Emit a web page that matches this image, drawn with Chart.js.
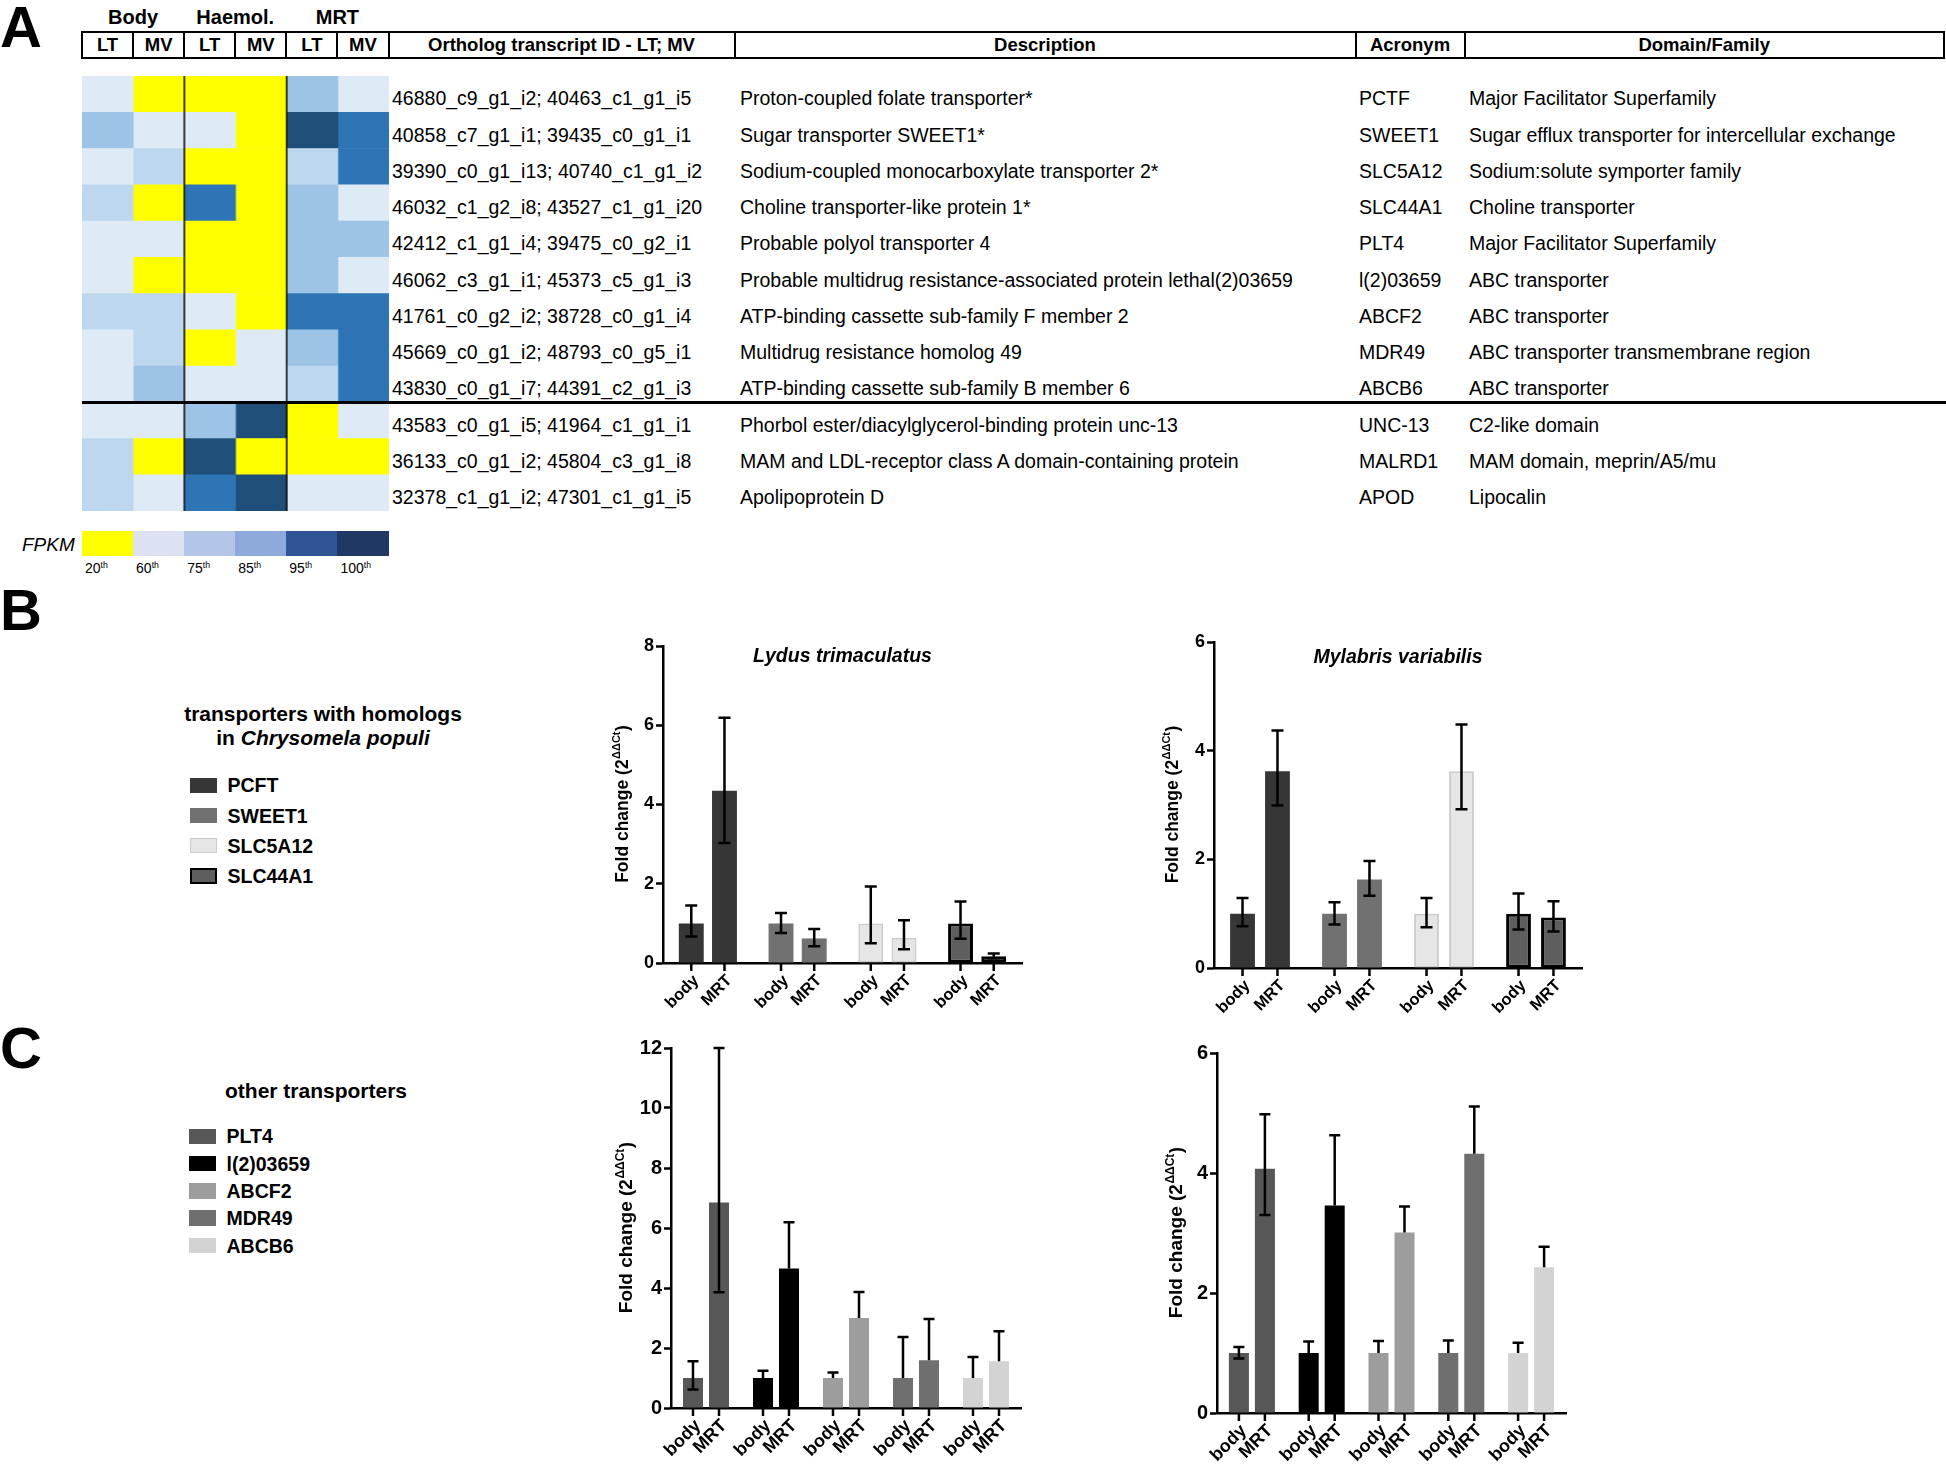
<!DOCTYPE html>
<html>
<head>
<meta charset="utf-8">
<title>Transporter expression in MRT</title>
<script src="https://cdn.jsdelivr.net/npm/chart.js@4.4.1/dist/chart.umd.min.js"></script>
<style>
  html, body { margin: 0; padding: 0; background: #fff; }
  body { position: relative; width: 1946px; height: 1464px; overflow: hidden;
         font-family: 'Liberation Sans', Arial, sans-serif; color: #000; }
  .txt { position: absolute; white-space: nowrap; line-height: 1; }
  .txt sup { font-size: 0.62em; vertical-align: 0; position: relative; top: -0.55em; line-height: 0; }
  .rule { position: absolute; background: #000; z-index: 2; }
  .box { position: absolute; box-sizing: border-box; }
  canvas { position: absolute; }
</style>
</head>
<body>
<canvas id="heatmap"></canvas>
<canvas id="lydusB"></canvas>
<canvas id="mylabrisB"></canvas>
<canvas id="lydusC"></canvas>
<canvas id="mylabrisC"></canvas>
<script>
// ---------- Panel A: RNA-seq table ----------
const SAMPLE_GROUPS = ['Body', 'Haemol.', 'MRT'];
const SAMPLE_SPECIES = ['LT', 'MV', 'LT', 'MV', 'LT', 'MV'];
const TABLE_HEADERS = ['Ortholog transcript ID - LT; MV', 'Description', 'Acronym', 'Domain/Family'];
const TRANSCRIPT_IDS = [
    '46880_c9_g1_i2; 40463_c1_g1_i5',
    '40858_c7_g1_i1; 39435_c0_g1_i1',
    '39390_c0_g1_i13; 40740_c1_g1_i2',
    '46032_c1_g2_i8; 43527_c1_g1_i20',
    '42412_c1_g1_i4; 39475_c0_g2_i1',
    '46062_c3_g1_i1; 45373_c5_g1_i3',
    '41761_c0_g2_i2; 38728_c0_g1_i4',
    '45669_c0_g1_i2; 48793_c0_g5_i1',
    '43830_c0_g1_i7; 44391_c2_g1_i3',
    '43583_c0_g1_i5; 41964_c1_g1_i1',
    '36133_c0_g1_i2; 45804_c3_g1_i8',
    '32378_c1_g1_i2; 47301_c1_g1_i5'
];
const DESCRIPTIONS = [
    'Proton-coupled folate transporter*',
    'Sugar transporter SWEET1*',
    'Sodium-coupled monocarboxylate transporter 2*',
    'Choline transporter-like protein 1*',
    'Probable polyol transporter 4',
    'Probable multidrug resistance-associated protein lethal(2)03659',
    'ATP-binding cassette sub-family F member 2',
    'Multidrug resistance homolog 49',
    'ATP-binding cassette sub-family B member 6',
    'Phorbol ester/diacylglycerol-binding protein unc-13',
    'MAM and LDL-receptor class A domain-containing protein',
    'Apolipoprotein D'
];
const ACRONYMS = ['PCTF', 'SWEET1', 'SLC5A12', 'SLC44A1', 'PLT4', 'l(2)03659',
    'ABCF2', 'MDR49', 'ABCB6', 'UNC-13', 'MALRD1', 'APOD'];
const DOMAINS = [
    'Major Facilitator Superfamily',
    'Sugar efflux transporter for intercellular exchange',
    'Sodium:solute symporter family',
    'Choline transporter',
    'Major Facilitator Superfamily',
    'ABC transporter',
    'ABC transporter',
    'ABC transporter transmembrane region',
    'ABC transporter',
    'C2-like domain',
    'MAM domain, meprin/A5/mu',
    'Lipocalin'
];
// FPKM percentile class per transcript (row) and sample (column): 0 = 20th ... 5 = 100th
const FPKM_CLASS = [
    [1, 0, 0, 0, 3, 1],
    [3, 1, 1, 0, 5, 4],
    [1, 2, 0, 0, 2, 4],
    [2, 0, 4, 0, 3, 1],
    [1, 1, 0, 0, 3, 3],
    [1, 0, 0, 0, 3, 1],
    [2, 2, 1, 0, 4, 4],
    [1, 2, 0, 1, 3, 4],
    [1, 3, 1, 1, 2, 4],
    [1, 1, 3, 5, 0, 1],
    [2, 0, 5, 0, 0, 0],
    [2, 1, 4, 5, 1, 1]
];
const FPKM_PERCENTILES = ['20', '60', '75', '85', '95', '100'];
const TRANSPORTER_ROWS = 9;

// ---------- Panels B and C: qPCR fold change ----------
const TISSUES = ['body', 'MRT'];

const GENES_B = ['PCFT', 'SWEET1', 'SLC5A12', 'SLC44A1'];
const LT_B_BODY = [1.0, 1.0, 1.0, 1.0];
const LT_B_MRT = [4.35, 0.62, 0.64, 0.17];
const LT_B_BODY_HI = [1.45, 1.26, 1.93, 1.55];
const LT_B_BODY_LO = [0.67, 0.76, 0.5, 0.61];
const LT_B_MRT_HI = [6.19, 0.86, 1.08, 0.24];
const LT_B_MRT_LO = [3.03, 0.42, 0.35, 0.12];

const MV_B_BODY = [1.0, 1.0, 1.0, 1.0];
const MV_B_MRT = [3.62, 1.63, 3.62, 0.93];
const MV_B_BODY_HI = [1.29, 1.21, 1.29, 1.37];
const MV_B_BODY_LO = [0.77, 0.80, 0.75, 0.71];
const MV_B_MRT_HI = [4.37, 1.97, 4.48, 1.23];
const MV_B_MRT_LO = [2.99, 1.33, 2.92, 0.67];

const GENES_C = ['PLT4', 'l(2)03659', 'ABCF2', 'MDR49', 'ABCB6'];
const LT_C_BODY = [1.0, 1.0, 1.0, 1.0, 1.0];
const LT_C_MRT = [6.85, 4.65, 3.0, 1.59, 1.56];
const LT_C_BODY_HI = [1.56, 1.24, 1.18, 2.37, 1.70];
const LT_C_BODY_LO = [0.62, null, null, null, null];
const LT_C_MRT_HI = [12.0, 6.19, 3.87, 2.97, 2.56];
const LT_C_MRT_LO = [3.86, null, null, null, null];

const MV_C_BODY = [1.0, 1.0, 1.0, 1.0, 1.0];
const MV_C_MRT = [4.07, 3.46, 3.01, 4.32, 2.43];
const MV_C_BODY_HI = [1.10, 1.19, 1.20, 1.21, 1.17];
const MV_C_BODY_LO = [0.91, null, null, null, null];
const MV_C_MRT_HI = [4.98, 4.63, 3.44, 5.11, 2.77];
const MV_C_MRT_LO = [3.30, null, null, null, null];

// ---------- styles ----------
const FONT = "'Liberation Sans', Arial, sans-serif";
const HEAT_COLORS = ['#ffff00', '#deebf7', '#bdd7ee', '#9dc3e6', '#2e75b6', '#1f4e79'];
const FPKM_KEY_COLORS = ['#ffff00', '#dde2f3', '#b4c6e7', '#8eaadb', '#2f5597', '#203864'];
const COLORS_B = {
    fill: ['#363636', '#717171', '#e6e6e6', '#5e5e5e'],
    border: ['#363636', '#717171', '#cccccc', '#000000'],
    width: [0, 0, 2, 3]
};
const COLORS_C = {
    fill: ['#575757', '#000000', '#9d9d9d', '#6f6f6f', '#d3d3d3'],
    border: ['#575757', '#000000', '#9d9d9d', '#6f6f6f', '#d3d3d3'],
    width: [0, 0, 0, 0, 0]
};
const TABLE = { left: 82, right: 1944, top: 76, rowH: 36.25, cellW: 51.08 };
const ASCENT = 0.8465; // baseline offset for line-height:1 boxes in Liberation Sans

Chart.defaults.font.family = FONT;
Chart.defaults.color = '#000';

function addText(html, x, baseline, size, opts = {}) {
    const el = document.createElement('div');
    el.className = 'txt';
    el.innerHTML = html;
    el.style.fontSize = size + 'px';
    el.style.top = (baseline - ASCENT * size) + 'px';
    el.style.left = x + 'px';
    if (opts.bold) el.style.fontWeight = 'bold';
    if (opts.italic) el.style.fontStyle = 'italic';
    if (opts.center) el.style.transform = 'translateX(-50%)';
    document.body.appendChild(el);
    return el;
}

function addBox(x, y, w, h, style) {
    const el = document.createElement('div');
    el.className = 'box';
    Object.assign(el.style, { left: x + 'px', top: y + 'px', width: w + 'px', height: h + 'px' }, style);
    document.body.appendChild(el);
    return el;
}

function addRule(x, y, w, h) {
    const el = addBox(x, y, w, h, {});
    el.className = 'rule';
    return el;
}

function placeCanvas(id, left, top, width, height) {
    const canvas = document.getElementById(id);
    canvas.width = width;
    canvas.height = height;
    canvas.style.left = left + 'px';
    canvas.style.top = top + 'px';
    canvas.style.width = width + 'px';
    canvas.style.height = height + 'px';
    return canvas;
}

// ---------- panel A ----------
function buildTable() {
    addText('A', 0, 47, 58, { bold: true });

    SAMPLE_GROUPS.forEach((g, i) => {
        addText(g, TABLE.left + TABLE.cellW * (2 * i + 1), 24, 20, { bold: true, center: true });
    });

    // header box
    const edges = SAMPLE_SPECIES.map((_, i) => TABLE.left + i * TABLE.cellW)
        .concat([388.5, 734.5, 1355.5, 1464.5]);
    addBox(TABLE.left - 1, 31, TABLE.right - TABLE.left + 2, 28, { border: '2px solid #000' });
    edges.slice(1).forEach(x => addRule(x - 1, 31, 2, 28));
    const headLabels = SAMPLE_SPECIES.concat(TABLE_HEADERS);
    const bounds = edges.concat([TABLE.right]);
    headLabels.forEach((h, i) => {
        addText(h, (bounds[i] + bounds[i + 1]) / 2, 51.5, 18.5, { bold: true, center: true });
    });

    TRANSCRIPT_IDS.forEach((id, r) => {
        const base = 106 + r * TABLE.rowH;
        addText(id, 392, base, 19.5);
        addText(DESCRIPTIONS[r], 740, base, 19.5);
        addText(ACRONYMS[r], 1359, base, 19.5);
        addText(DOMAINS[r], 1469, base, 19.5);
    });

    addRule(TABLE.left, TABLE.top + TRANSPORTER_ROWS * TABLE.rowH - 1.25, 1946 - TABLE.left, 2.5);

    // FPKM key
    addText('FPKM', 22, 551.5, 19, { italic: true });
    FPKM_PERCENTILES.forEach((p, i) => {
        const x = TABLE.left + i * TABLE.cellW;
        addBox(x, 531, TABLE.cellW + 0.5, 25, { background: FPKM_KEY_COLORS[i] });
        addText(p + '<sup>th</sup>', x + 3, 573, 14);
    });
}

const heatSeparators = {
    id: 'heatSeparators',
    afterDatasetsDraw(chart) {
        const { ctx, chartArea, scales: { x } } = chart;
        ctx.save();
        ctx.strokeStyle = '#000';
        ctx.lineWidth = 1.5;
        [2, 4].forEach(v => {
            const px = x.getPixelForValue(v);
            ctx.beginPath();
            ctx.moveTo(px, chartArea.top);
            ctx.lineTo(px, chartArea.bottom);
            ctx.stroke();
        });
        ctx.restore();
    }
};

function initHeatmap() {
    const canvas = placeCanvas('heatmap', TABLE.left, TABLE.top, 306.5, 435);
    new Chart(canvas.getContext('2d'), {
        type: 'bar',
        data: {
            labels: TRANSCRIPT_IDS,
            datasets: SAMPLE_SPECIES.map((sp, c) => ({
                label: SAMPLE_GROUPS[Math.floor(c / 2)] + ' ' + sp,
                data: TRANSCRIPT_IDS.map(() => 1),
                backgroundColor: FPKM_CLASS.map(row => HEAT_COLORS[row[c]]),
                borderWidth: 0,
                barPercentage: 1,
                categoryPercentage: 1
            }))
        },
        options: {
            indexAxis: 'y',
            responsive: false,
            animation: false,
            layout: { padding: 0 },
            plugins: { legend: { display: false }, tooltip: { enabled: false } },
            scales: {
                x: { stacked: true, display: false, min: 0, max: SAMPLE_SPECIES.length },
                y: { stacked: true, display: false }
            }
        },
        plugins: [heatSeparators]
    });
}

// ---------- panels B / C ----------
function makeFoldDecor(series, look) {
    return {
        id: 'foldDecor',
        afterDatasetsDraw(chart) {
            const { ctx, chartArea, scales: { y } } = chart;
            ctx.save();
            ctx.strokeStyle = '#000';
            ctx.fillStyle = '#000';
            ctx.lineWidth = 2.5;
            TISSUES.forEach((tissue, t) => {
                chart.getDatasetMeta(t).data.forEach((bar, j) => {
                    const yMid = y.getPixelForValue(series.values[t][j]);
                    const yHi = y.getPixelForValue(series.upper[t][j]);
                    const lo = series.lower[t][j];
                    const yLo = lo == null ? yMid : y.getPixelForValue(lo);
                    ctx.beginPath();
                    ctx.moveTo(bar.x, yLo);
                    ctx.lineTo(bar.x, yHi);
                    ctx.moveTo(bar.x - look.cap, yHi);
                    ctx.lineTo(bar.x + look.cap, yHi);
                    if (lo != null) {
                        ctx.moveTo(bar.x - look.cap, yLo);
                        ctx.lineTo(bar.x + look.cap, yLo);
                    }
                    ctx.moveTo(bar.x, chartArea.bottom);
                    ctx.lineTo(bar.x, chartArea.bottom + 8);
                    ctx.stroke();

                    ctx.save();
                    ctx.translate(bar.x + 5, chartArea.bottom + 15);
                    ctx.rotate(-Math.PI / 4);
                    ctx.font = `bold ${look.labelSize}px ${FONT}`;
                    ctx.textAlign = 'right';
                    ctx.textBaseline = 'middle';
                    ctx.fillText(tissue, 0, 0);
                    ctx.restore();
                });
            });

            if (look.title) {
                ctx.font = `italic bold 19.5px ${FONT}`;
                ctx.textAlign = 'center';
                ctx.textBaseline = 'alphabetic';
                ctx.fillText(look.title, (chartArea.left + chartArea.right) / 2, chartArea.top + look.titleDy);
            }

            // y title with superscript
            const s = look.yTitleSize;
            const mainFont = `bold ${s}px ${FONT}`;
            const supFont = `bold ${Math.round(s * 0.62)}px ${FONT}`;
            ctx.save();
            ctx.translate(chartArea.left - look.yTitleDx, (chartArea.top + chartArea.bottom) / 2);
            ctx.rotate(-Math.PI / 2);
            ctx.textAlign = 'left';
            ctx.textBaseline = 'middle';
            ctx.font = mainFont;
            const w1 = ctx.measureText('Fold change (2').width;
            const w3 = ctx.measureText(')').width;
            ctx.font = supFont;
            const w2 = ctx.measureText('ΔΔCt').width;
            const x0 = -(w1 + w2 + w3) / 2;
            ctx.font = mainFont;
            ctx.fillText('Fold change (2', x0, 0);
            ctx.fillText(')', x0 + w1 + w2 + 1, 0);
            ctx.font = supFont;
            ctx.fillText('ΔΔCt', x0 + w1 + 0.5, -s * 0.33);
            ctx.restore();

            ctx.restore();
        }
    };
}

function initFoldChart(id, genes, series, colors, look) {
    const canvas = placeCanvas(id, look.left, look.top, look.width, look.height);
    new Chart(canvas.getContext('2d'), {
        type: 'bar',
        data: {
            labels: genes,
            datasets: TISSUES.map((tissue, t) => ({
                label: tissue,
                data: series.values[t],
                backgroundColor: colors.fill,
                borderColor: colors.border,
                borderWidth: colors.width,
                borderSkipped: false,
                barPercentage: look.barPct,
                categoryPercentage: look.catPct
            }))
        },
        options: {
            responsive: false,
            animation: false,
            layout: { padding: { top: look.padTop, right: look.padRight, left: 0, bottom: 0 } },
            plugins: { legend: { display: false }, tooltip: { enabled: false } },
            scales: {
                x: {
                    z: 1,
                    grid: { display: false },
                    ticks: { display: false },
                    border: { color: '#000', width: 2.5 },
                    afterFit: (scale) => { scale.height = look.axisH; }
                },
                y: {
                    z: 1,
                    min: 0,
                    max: look.yMax,
                    ticks: { stepSize: 2, padding: 2, color: '#000',
                             font: { family: FONT, weight: 'bold', size: look.tickSize } },
                    grid: { drawOnChartArea: false, tickLength: 7, tickColor: '#000', tickWidth: 2.5 },
                    border: { color: '#000', width: 2.5 },
                    afterFit: (scale) => { scale.width = look.axisW; }
                }
            }
        },
        plugins: [makeFoldDecor(series, look)]
    });
}

function buildLegend(title, genes, colors, titleBase, itemBase, step, swatchX) {
    title.forEach((line, i) => addText(line, titleBase.x, titleBase.y + i * 24, 21, { bold: true, center: true }));
    genes.forEach((g, i) => {
        const base = itemBase + i * step;
        const bw = colors.width[i] ? (colors.width[i] === 3 ? '2.5px' : '1.5px') : '0';
        addBox(swatchX, base - 15.5, 27, 15.5, {
            background: colors.fill[i],
            border: `${bw} solid ${colors.border[i]}`
        });
        addText(g, swatchX + 38, base, 19.5, { bold: true });
    });
}

document.addEventListener('DOMContentLoaded', () => {
    buildTable();
    initHeatmap();

    addText('B', 0, 630.5, 58, { bold: true });
    addText('C', 0, 1068.5, 58, { bold: true });

    buildLegend(['transporters with homologs', 'in <i>Chrysomela populi</i>'], GENES_B, COLORS_B,
        { x: 323, y: 721 }, 793, 30.2, 189.5);
    buildLegend(['other transporters'], GENES_C, COLORS_C,
        { x: 316, y: 1098 }, 1144, 27.3, 188.5);

    initFoldChart('lydusB', GENES_B, {
        values: [LT_B_BODY, LT_B_MRT], upper: [LT_B_BODY_HI, LT_B_MRT_HI], lower: [LT_B_BODY_LO, LT_B_MRT_LO]
    }, COLORS_B, {
        left: 560, top: 620, width: 480, height: 400, axisW: 103, padTop: 26, padRight: 18, axisH: 57,
        yMax: 8, catPct: 0.74, barPct: 0.75, cap: 6, labelSize: 16.5, tickSize: 18,
        title: 'Lydus trimaculatus', titleDy: 16, yTitleDx: 40, yTitleSize: 17.5
    });
    initFoldChart('mylabrisB', GENES_B, {
        values: [MV_B_BODY, MV_B_MRT], upper: [MV_B_BODY_HI, MV_B_MRT_HI], lower: [MV_B_BODY_LO, MV_B_MRT_LO]
    }, COLORS_B, {
        left: 1110, top: 620, width: 490, height: 400, axisW: 104, padTop: 22, padRight: 18, axisH: 52,
        yMax: 6, catPct: 0.76, barPct: 0.71, cap: 6, labelSize: 16.5, tickSize: 18,
        title: 'Mylabris variabilis', titleDy: 21, yTitleDx: 41, yTitleSize: 17.5
    });
    initFoldChart('lydusC', GENES_C, {
        values: [LT_C_BODY, LT_C_MRT], upper: [LT_C_BODY_HI, LT_C_MRT_HI], lower: [LT_C_BODY_LO, LT_C_MRT_LO]
    }, COLORS_C, {
        left: 570, top: 1025, width: 470, height: 439, axisW: 101, padTop: 23, padRight: 19, axisH: 56,
        yMax: 12, catPct: 0.743, barPct: 0.77, cap: 5.5, labelSize: 18, tickSize: 20,
        title: null, yTitleDx: 44, yTitleSize: 19
    });
    initFoldChart('mylabrisC', GENES_C, {
        values: [MV_C_BODY, MV_C_MRT], upper: [MV_C_BODY_HI, MV_C_MRT_HI], lower: [MV_C_BODY_LO, MV_C_MRT_LO]
    }, COLORS_C, {
        left: 1115, top: 1025, width: 470, height: 439, axisW: 102, padTop: 28, padRight: 19, axisH: 51,
        yMax: 6, catPct: 0.745, barPct: 0.77, cap: 5.5, labelSize: 18, tickSize: 20,
        title: null, yTitleDx: 40, yTitleSize: 19
    });
});
</script>
</body>
</html>
